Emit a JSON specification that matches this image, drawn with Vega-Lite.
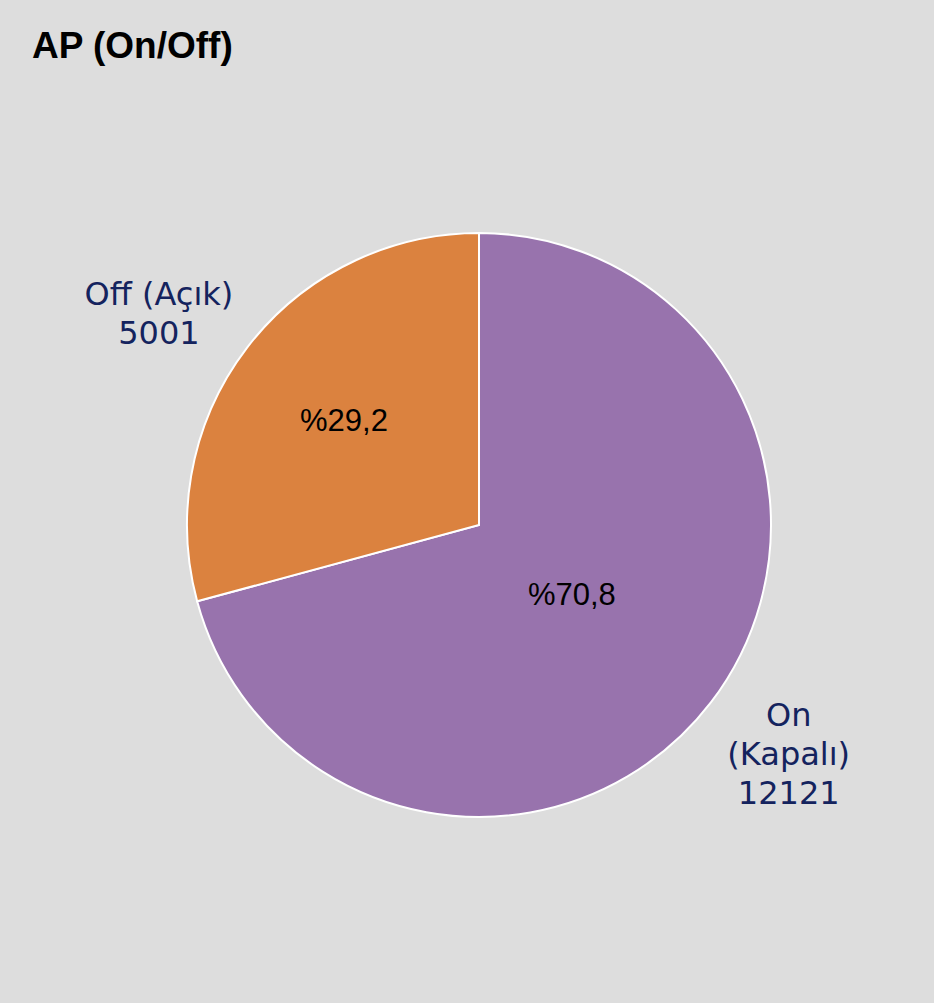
{
  "$schema": "https://vega.github.io/schema/vega-lite/v6.json",
  "width": 910,
  "height": 956,
  "autosize": {"type": "none"},
  "padding": {"left": 24, "top": 47, "right": 0, "bottom": 0},
  "background": "#dddddd",
  "config": {"view": {"stroke": null}},
  "title": {
    "text": "AP (On/Off)",
    "anchor": "start",
    "font": "Liberation Sans",
    "fontSize": 37,
    "fontWeight": "bold",
    "color": "#000000",
    "baseline": "alphabetic",
    "offset": 0,
    "dx": 8,
    "dy": 48
  },
  "data": {
    "values": [
      {"name": "On\n(Kapalı)", "count": 12121, "pct": "%70,8"},
      {"name": "Off (Açık)", "count": 5001, "pct": "%29,2"}
    ]
  },
  "transform": [
    {"calculate": "datum.name + '\\n' + datum.count", "as": "outer"}
  ],
  "encoding": {
    "theta": {"field": "count", "type": "quantitative", "stack": true},
    "order": {"field": "count", "type": "quantitative", "sort": "descending"},
    "detail": {"field": "name", "type": "nominal"}
  },
  "layer": [
    {
      "mark": {"type": "arc", "outerRadius": 292, "stroke": "#ffffff", "strokeWidth": 2},
      "encoding": {
        "color": {
          "field": "name",
          "type": "nominal",
          "scale": {"domain": ["On\n(Kapalı)", "Off (Açık)"], "range": ["#9873ad", "#db823f"]},
          "legend": null
        }
      }
    },
    {
      "mark": {"type": "text", "radius": 117, "font": "Liberation Sans", "fontSize": 31, "color": "#000000", "align": "center", "baseline": "middle"},
      "encoding": {"text": {"condition": {"test": "datum.count == 12121", "field": "pct", "type": "nominal"}, "value": ""}}
    },
    {
      "mark": {"type": "text", "radius": 170, "font": "Liberation Sans", "fontSize": 31, "color": "#000000", "align": "center", "baseline": "middle"},
      "encoding": {"text": {"condition": {"test": "datum.count == 5001", "field": "pct", "type": "nominal"}, "value": ""}}
    },
    {
      "mark": {"type": "text", "radius": 403, "dy": 15, "font": "DejaVu Sans", "fontSize": 32, "lineHeight": 39, "lineBreak": "\n", "color": "#14235e", "align": "center", "baseline": "middle"},
      "encoding": {"text": {"condition": {"test": "datum.count == 5001", "field": "outer", "type": "nominal"}, "value": ""}}
    },
    {
      "mark": {"type": "text", "radius": 390, "dy": -46, "font": "DejaVu Sans", "fontSize": 32, "lineHeight": 39, "lineBreak": "\n", "color": "#14235e", "align": "center", "baseline": "middle"},
      "encoding": {"text": {"condition": {"test": "datum.count == 12121", "field": "outer", "type": "nominal"}, "value": ""}}
    }
  ]
}
